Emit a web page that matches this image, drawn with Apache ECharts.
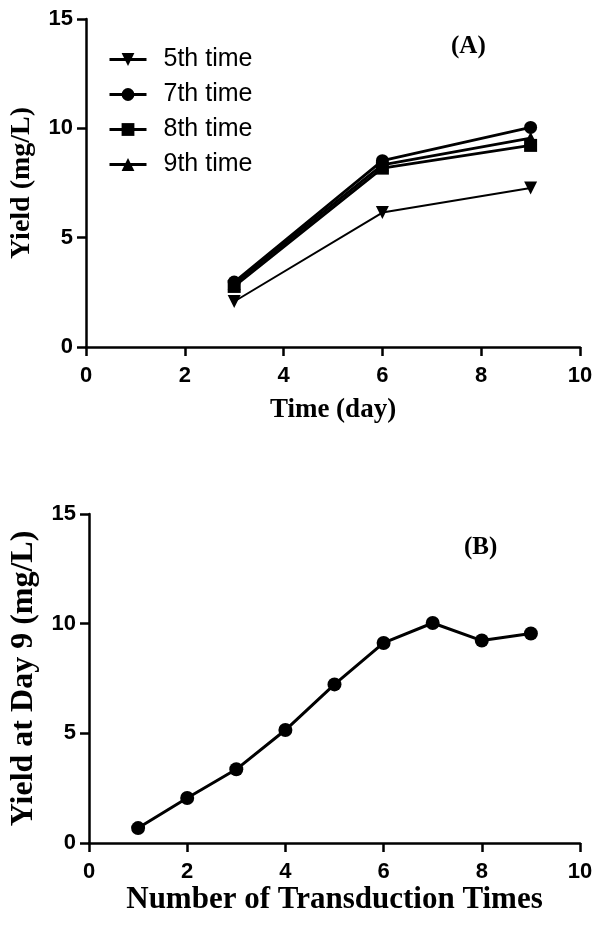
<!DOCTYPE html>
<html>
<head>
<meta charset="utf-8">
<script src="https://cdn.jsdelivr.net/npm/echarts@6/dist/echarts.min.js"></script>
<style>
html,body{margin:0;padding:0;background:#fff;}
#chart{width:602px;height:930px;}
</style>
</head>
<body>
<div id="chart"></div>
<script>
// Panel A data
const days = [3, 6, 9];
const fifthTime = [2.08, 6.15, 7.27];
const seventhTime = [2.97, 8.52, 10.04];
const eighthTime = [2.77, 8.18, 9.22];
const ninthTime = [2.9, 8.33, 9.55];
const seriesNamesA = ['5th time', '7th time', '8th time', '9th time'];

// Panel B data
const transductionTimes = [1, 2, 3, 4, 5, 6, 7, 8, 9];
const yieldDay9 = [0.68, 2.05, 3.36, 5.15, 7.23, 9.12, 10.03, 9.23, 9.55];

// Axis ticks
const xTicks = [0, 2, 4, 6, 8, 10];
const yTicks = [0, 5, 10, 15];

const pair = (xs, ys) => xs.map((x, i) => [x, ys[i]]);

const tickFont = {fontFamily: 'Liberation Sans, Arial, sans-serif', fontWeight: 'bold', fontSize: 22, color: '#000'};
const titleFont = {fontFamily: 'Liberation Serif, Times New Roman, serif', fontWeight: 'bold', color: '#000'};
const axisLine = {show: true, lineStyle: {color: '#000', width: 2.5}};
const axisTick = {show: true, length: 9, lineStyle: {color: '#000', width: 2.5}};

function xAxis(gridIndex, name, nameGap, nameSize) {
  return {
    type: 'value', gridIndex, min: xTicks[0], max: xTicks[xTicks.length - 1], interval: 2,
    axisLine, axisTick, splitLine: {show: false},
    axisLabel: Object.assign({margin: 18}, tickFont),
    name, nameLocation: 'middle', nameGap,
    nameTextStyle: Object.assign({fontSize: nameSize}, titleFont)
  };
}
function yAxis(gridIndex, name, nameGap, nameSize) {
  return {
    type: 'value', gridIndex, min: yTicks[0], max: yTicks[yTicks.length - 1], interval: 5,
    axisLine, axisTick, splitLine: {show: false},
    axisLabel: Object.assign({margin: 13}, tickFont),
    name, nameLocation: 'middle', nameGap,
    nameTextStyle: Object.assign({fontSize: nameSize}, titleFont)
  };
}

const lineA = (name, data, symbol, rotate, width) => ({
  name, type: 'line', xAxisIndex: 0, yAxisIndex: 0,
  data: pair(days, data),
  symbol, symbolSize: 13, symbolRotate: rotate,
  itemStyle: {color: '#000'},
  lineStyle: {color: '#000', width},
  animation: false
});

const chart = echarts.init(document.getElementById('chart'), null, {renderer: 'canvas'});
chart.setOption({
  backgroundColor: '#fff',
  animation: false,
  title: [
    {text: '(A)', left: 446, top: 29, textStyle: Object.assign({fontSize: 25}, titleFont)},
    {text: '(B)', left: 459, top: 530, textStyle: Object.assign({fontSize: 25}, titleFont)}
  ],
  legend: {
    data: seriesNamesA,
    orient: 'vertical',
    left: 103, top: 42,
    itemWidth: 37, itemHeight: 16, itemGap: 10,
    lineStyle: {width: 3},
    textStyle: {fontFamily: 'Liberation Sans, Arial, sans-serif', fontSize: 25, color: '#000', padding: [0, 0, 0, 12]},
    selectedMode: false
  },
  grid: [
    {left: 85, top: 19, width: 495, height: 328},
    {left: 85, top: 514, width: 495, height: 329}
  ],
  xAxis: [
    xAxis(0, 'Time (day)', 50, 27),
    xAxis(1, 'Number of Transduction Times', 41, 31)
  ],
  yAxis: [
    yAxis(0, 'Yield (mg/L)', 50, 28),
    yAxis(1, 'Yield at Day 9 (mg/L)', 49, 32)
  ],
  series: [
    lineA(seriesNamesA[0], fifthTime, 'triangle', 180, 2),
    lineA(seriesNamesA[1], seventhTime, 'circle', 0, 2.8),
    lineA(seriesNamesA[2], eighthTime, 'rect', 0, 2.8),
    lineA(seriesNamesA[3], ninthTime, 'triangle', 0, 2.8),
    {
      name: 'Yield at Day 9', type: 'line', xAxisIndex: 1, yAxisIndex: 1,
      data: pair(transductionTimes, yieldDay9),
      symbol: 'circle', symbolSize: 14,
      itemStyle: {color: '#000'},
      lineStyle: {color: '#000', width: 3},
      animation: false
    }
  ]
});
</script>
</body>
</html>
